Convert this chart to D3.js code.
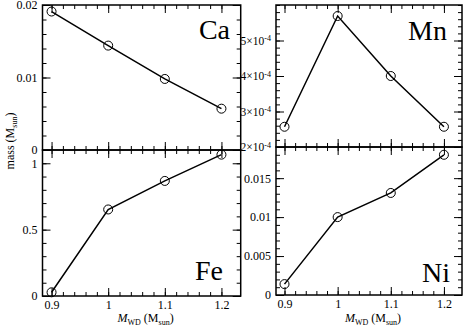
<!DOCTYPE html>
<html>
<head>
<meta charset="utf-8">
<script src="https://cdn.jsdelivr.net/npm/d3@7"></script>
<style>
body { margin: 0; background: #fff; }
</style>
</head>
<body>
<div class="chart"></div>
<script>
// data
var massWD = [0.9, 1.0, 1.1, 1.2];
var caMass = [0.0191, 0.0144, 0.0098, 0.0057];
var mnMass = [2.57e-4, 5.69e-4, 4.0e-4, 2.57e-4];
var feMass = [0.028, 0.652, 0.867, 1.065];
var niMass = [0.0014, 0.0100, 0.0131, 0.0180];

var xTicks = [0.9, 1.0, 1.1, 1.2];
var xTickLabels = ["0.9", "1", "1.1", "1.2"];
var caTicks = [0, 0.01, 0.02];
var caTickLabels = ["0", "0.01", "0.02"];
var mnTicks = [2e-4, 3e-4, 4e-4, 5e-4];
var mnTickLabels = ["2×10^-4", "3×10^-4", "4×10^-4", "5×10^-4"];
var feTicks = [0, 0.5, 1];
var feTickLabels = ["0", "0.5", "1"];
var niTicks = [0, 0.005, 0.01, 0.015];
var niTickLabels = ["0", "0.005", "0.01", "0.015"];

var width = 463, height = 326;
var xDomain = [0.884, 1.234];
var serif = "Liberation Serif";

var svg = d3.select(".chart").append("svg")
	.attr("width", width)
	.attr("height", height)
	.attr("font-family", serif);

var panels = [
	{name: "Ca", values: caMass, ticks: caTicks, labels: caTickLabels, minor: 0.002, domain: [0, 0.02],
		x0: 42.5, x1: 240.7, y0: 5, y1: 150, lx: 230, ly: 38.5, bottom: false, fs: 12},
	{name: "Mn", values: mnMass, ticks: mnTicks, labels: mnTickLabels, minor: 2e-5, domain: [2e-4, 6e-4],
		x0: 276, x1: 462, y0: 5, y1: 147, lx: 447, ly: 39.5, bottom: false, fs: 12},
	{name: "Fe", values: feMass, ticks: feTicks, labels: feTickLabels, minor: 0.1, domain: [0, 1.1],
		x0: 42.5, x1: 240.7, y0: 150, y1: 296, lx: 223, ly: 280, bottom: true, fs: 12},
	{name: "Ni", values: niMass, ticks: niTicks, labels: niTickLabels, minor: 0.001, domain: [0, 0.019],
		x0: 276, x1: 462, y0: 147, y1: 295, lx: 450, ly: 281.5, bottom: true, fs: 12}
];

var xMinor = d3.range(0.9, 1.2001, 0.02).concat([0.88]);

function minorTicks(domain, step) {
	var t = [];
	var start = Math.ceil(domain[0] / step - 1e-6);
	for (var i = start; i * step <= domain[1] + step * 1e-6; i++) t.push(i * step);
	return t;
}

function cleanAxis(sel) {
	sel.attr("font-family", serif);
	sel.select(".domain").remove();
	sel.selectAll("line").attr("stroke", "#000").attr("stroke-width", 1);
	sel.selectAll("text").attr("font-family", serif).attr("fill", "#000");
}

panels.forEach(function(p) {
	var g = svg.append("g").attr("class", "panel");
	var x = d3.scaleLinear().domain(xDomain).range([p.x0, p.x1]);
	var y = d3.scaleLinear().domain(p.domain).range([p.y1, p.y0]);
	var yMinor = minorTicks(p.domain, p.minor);
	var xm = xMinor.filter(function(v) { return x(v) > p.x0 + 1 && x(v) < p.x1 - 1; });

	// frame
	g.append("rect")
		.attr("x", p.x0).attr("y", p.y0)
		.attr("width", p.x1 - p.x0).attr("height", p.y1 - p.y0)
		.attr("fill", "none").attr("stroke", "#000").attr("stroke-width", 1.5);

	// left axis with labels
	var ax = g.append("g").attr("transform", "translate(" + p.x0 + ",0)")
		.call(d3.axisLeft(y).tickValues(p.ticks).tickSize(-8).tickPadding(5)
			.tickFormat(function(d, i) { return p.labels[i]; }))
		.call(cleanAxis);
	ax.selectAll("text").attr("font-size", p.fs)
		.each(function() {
			var t = d3.select(this), s = t.text();
			if (s.indexOf("^") > -1) {
				var parts = s.split("^");
				t.text(parts[0]).attr("font-size", 11.5);
				t.append("tspan").attr("dy", "-0.45em").attr("font-size", "0.7em").text(parts[1]);
			}
		});
	g.append("g").attr("transform", "translate(" + p.x0 + ",0)")
		.call(d3.axisLeft(y).tickValues(yMinor).tickSize(-4).tickFormat(""))
		.call(cleanAxis);

	// right mirrored ticks
	g.append("g").attr("transform", "translate(" + p.x1 + ",0)")
		.call(d3.axisRight(y).tickValues(p.ticks).tickSize(-8).tickFormat(""))
		.call(cleanAxis);
	g.append("g").attr("transform", "translate(" + p.x1 + ",0)")
		.call(d3.axisRight(y).tickValues(yMinor).tickSize(-4).tickFormat(""))
		.call(cleanAxis);

	// bottom and top ticks
	var bx = g.append("g").attr("transform", "translate(0," + p.y1 + ")")
		.call(d3.axisBottom(x).tickValues(xTicks).tickSize(-8).tickPadding(4)
			.tickFormat(function(d, i) { return p.bottom ? xTickLabels[i] : ""; }))
		.call(cleanAxis);
	bx.selectAll("text").attr("font-size", 12);
	g.append("g").attr("transform", "translate(0," + p.y1 + ")")
		.call(d3.axisBottom(x).tickValues(xm).tickSize(-4).tickFormat(""))
		.call(cleanAxis);
	g.append("g").attr("transform", "translate(0," + p.y0 + ")")
		.call(d3.axisTop(x).tickValues(xTicks).tickSize(-8).tickFormat(""))
		.call(cleanAxis);
	g.append("g").attr("transform", "translate(0," + p.y0 + ")")
		.call(d3.axisTop(x).tickValues(xm).tickSize(-4).tickFormat(""))
		.call(cleanAxis);

	// data line and circles
	var line = d3.line()
		.x(function(d, i) { return x(massWD[i]); })
		.y(function(d) { return y(d); });
	g.append("path")
		.datum(p.values)
		.attr("d", line)
		.attr("fill", "none").attr("stroke", "#000").attr("stroke-width", 1.5);
	g.selectAll(".pt")
		.data(p.values)
		.enter().append("circle")
			.attr("class", "pt")
			.attr("cx", function(d, i) { return x(massWD[i]); })
			.attr("cy", function(d) { return y(d); })
			.attr("r", 4.5)
			.attr("fill", "none").attr("stroke", "#000").attr("stroke-width", 1);

	// element name
	g.append("text")
		.attr("x", p.lx).attr("y", p.ly)
		.attr("text-anchor", "end")
		.attr("font-family", serif)
		.attr("font-size", 28)
		.text(p.name);

	// x title under bottom panels
	if (p.bottom) {
		var t = g.append("text")
			.attr("x", (p.x0 + p.x1) / 2 + 4).attr("y", 322)
			.attr("text-anchor", "middle")
			.attr("font-family", serif)
			.attr("font-size", 12);
		t.append("tspan").attr("font-style", "italic").text("M");
		t.append("tspan").attr("font-size", 8).attr("dy", 3).text("WD");
		t.append("tspan").attr("dy", -3).text(" (M");
		t.append("tspan").attr("font-size", 8).attr("dy", 3).text("sun");
		t.append("tspan").attr("dy", -3).text(")");
	}
});

// y title
var yt = svg.append("text")
	.attr("transform", "translate(14,141) rotate(-90)")
	.attr("text-anchor", "middle")
	.attr("font-family", serif)
	.attr("font-size", 12);
yt.append("tspan").text("mass (M");
yt.append("tspan").attr("font-size", 8).attr("dy", 3).text("sun");
yt.append("tspan").attr("dy", -3).text(")");
</script>
</body>
</html>
